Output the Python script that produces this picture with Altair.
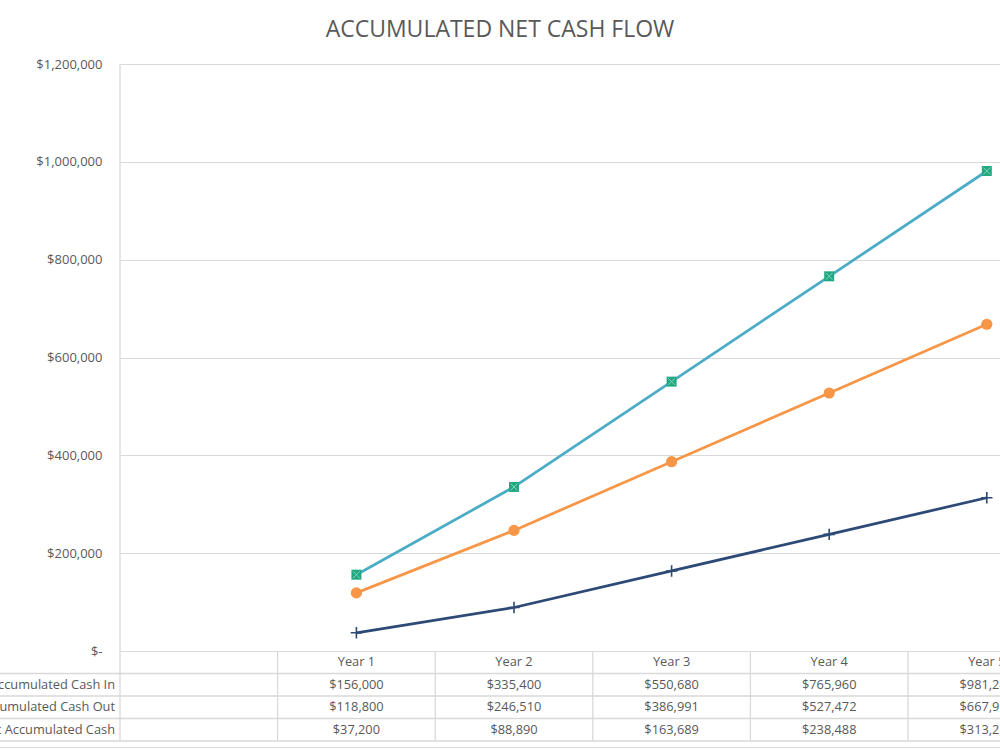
import altair as alt
import pandas as pd

# ---------------- data ----------------
years = ["Year 1", "Year 2", "Year 3", "Year 4", "Year 5"]
series = ["Accumulated Cash In", "Accumulated Cash Out", "Net Accumulated Cash"]
cash_in = [156000, 335400, 550680, 765960, 981240]
cash_out = [118800, 246510, 386991, 527472, 667953]
net_cash = [37200, 88890, 163689, 238488, 313287]
y_ticks = [0, 200000, 400000, 600000, 800000, 1000000, 1200000]
title_text = "ACCUMULATED NET CASH FLOW"

# category slots on the x axis: an empty first slot, then the years
categories = [""] + years

# ---------------- styling / layout ----------------
FONT = "Open Sans"
GRAY_TXT = "#595959"
GRID = "#D9D9D9"
colors = ["#4BACC6", "#F79646", "#2D4A77"]
W, H = 880, 587
PAD_L, PAD_T = 120, 64
COL_W = 157.6
X_MAX = W / COL_W
ROW_H = 22.5

values_by_series = [cash_in, cash_out, net_cash]
rows = []
for s, vals in zip(series, values_by_series):
    for y, v in zip(years, vals):
        rows.append({"series": s, "year": y, "pos": categories.index(y) + 0.5,
                     "value": v, "label": "${:,}".format(v)})
df = pd.DataFrame(rows)
df_years = pd.DataFrame({"year": years, "pos": [categories.index(y) + 0.5 for y in years]})
df_bounds = pd.DataFrame({"b": list(range(1, len(categories)))})
df_series = pd.DataFrame({"series": series})

xs = alt.Scale(domain=[0, X_MAX], nice=False, zero=False)
ys = alt.Scale(domain=[0, 1200000], nice=False)
yaxis = alt.Axis(values=y_ticks,
                 labelExpr="datum.value == 0 ? '$-' : '$' + format(datum.value, ',')",
                 grid=True, gridColor=GRID, gridWidth=1.2, domain=False, ticks=False,
                 labelPadding=18, labelColor=GRAY_TXT, labelFont=FONT, labelFontSize=13,
                 title=None)
X = alt.X("pos:Q", scale=xs, axis=None)
Y = alt.Y("value:Q", scale=ys, axis=yaxis)

base = alt.Chart(df)

lines = base.mark_line(strokeWidth=2.75).encode(
    x=X, y=Y,
    color=alt.Color("series:N", scale=alt.Scale(domain=series, range=colors), legend=None),
)

pts_in = base.transform_filter(alt.datum.series == series[0]).mark_point(
    shape="square", filled=True, size=100, color="#22A882", opacity=1).encode(x=X, y=Y)
pts_in_x = base.transform_filter(alt.datum.series == series[0]).mark_point(
    shape="M-1,-1L1,1M1,-1L-1,1", filled=False, size=45, strokeWidth=1,
    color="#7FD4B4", opacity=1).encode(x=X, y=Y)
pts_out = base.transform_filter(alt.datum.series == series[1]).mark_point(
    shape="circle", filled=True, size=125, color=colors[1], opacity=1).encode(x=X, y=Y)
pts_net = base.transform_filter(alt.datum.series == series[2]).mark_point(
    shape="M-1,0L1,0M0,-1L0,1", filled=False, size=130, strokeWidth=1.6,
    color=colors[2], opacity=1).encode(x=X, y=Y)

# ---- data table ----
table_top = H  # table starts at the category axis
left_rule = alt.Chart(df_series.head(1)).mark_rule(color=GRID, strokeWidth=1.3).encode(
    x=alt.value(0), y=alt.value(0), y2=alt.value(table_top + 4 * ROW_H))
col_rules = alt.Chart(df_bounds).mark_rule(color=GRID, strokeWidth=1.3).encode(
    x=alt.X("b:Q", scale=xs, axis=None),
    y=alt.value(table_top), y2=alt.value(table_top + 4 * ROW_H))

layers = [lines, pts_in, pts_in_x, pts_out, pts_net, left_rule, col_rules]

for k in range(1, 5):
    layers.append(alt.Chart(df_series.head(1)).mark_rule(color=GRID, strokeWidth=1.3).encode(
        x=alt.value(-200), x2=alt.value(W), y=alt.value(table_top + k * ROW_H)))
# outer chart border at the bottom
layers.append(alt.Chart(df_series.head(1)).mark_rule(color=GRID, strokeWidth=1).encode(
    x=alt.value(-200), x2=alt.value(W), y=alt.value(table_top + 4 * ROW_H + 6.5)))

txt = dict(font=FONT, fontSize=12.8, color=GRAY_TXT, baseline="middle")
layers.append(alt.Chart(df_years).mark_text(align="center", **txt).encode(
    x=alt.X("pos:Q", scale=xs, axis=None), y=alt.value(table_top + ROW_H / 2),
    text="year:N"))
for r, s in enumerate(series):
    layers.append(base.transform_filter(alt.datum.series == s).mark_text(align="center", **txt).encode(
        x=X, y=alt.value(table_top + ROW_H * (r + 1.5)), text="label:N"))
    layers.append(alt.Chart(df_series.iloc[[r]]).mark_text(align="right", **txt).encode(
        x=alt.value(-5), y=alt.value(table_top + ROW_H * (r + 1.5)), text="series:N"))

# title
layers.append(alt.Chart(pd.DataFrame({"t": [title_text]})).mark_text(
    align="center", baseline="middle", font=FONT, fontSize=23, color=GRAY_TXT).encode(
    x=alt.value(500 - PAD_L), y=alt.value(30 - PAD_T), text="t:N"))

chart = alt.layer(*layers).properties(
    width=W, height=H,
    padding={"left": PAD_L, "top": PAD_T, "right": 0, "bottom": 750 - PAD_T - H},
    autosize=alt.AutoSizeParams(type="none"),
    background="white",
).configure_view(stroke=None)

chart.save("out.html", embed_options={"renderer": "svg", "actions": False})
